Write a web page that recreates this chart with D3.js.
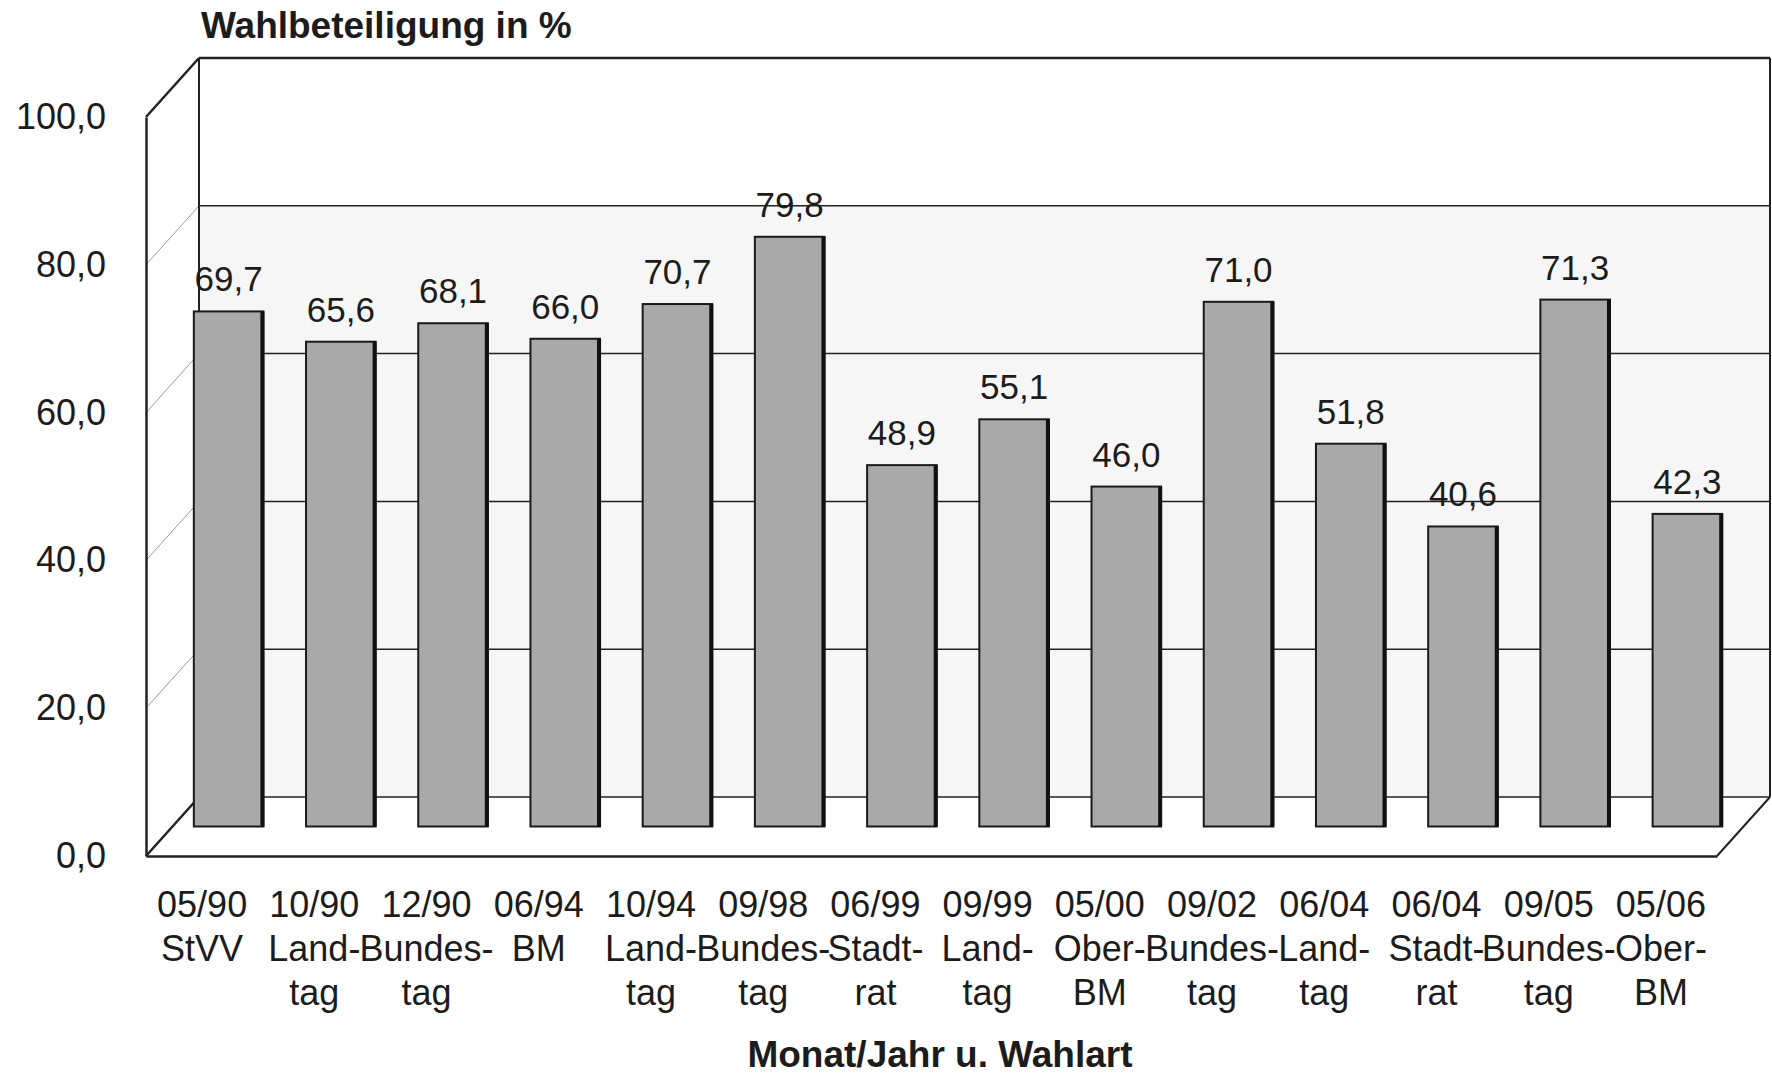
<!DOCTYPE html>
<html>
<head>
<meta charset="utf-8">
<script src="https://cdn.jsdelivr.net/npm/d3@7"></script>
<style>
  body { margin: 0; background: #fff; }
  text { font-family: "Liberation Sans", Arial, sans-serif; fill: #1c1c1c; }
</style>
</head>
<body>
<div id="chart"></div>
<script>
var dates  = ["05/90", "10/90", "12/90", "06/94", "10/94", "09/98", "06/99", "09/99", "05/00", "09/02", "06/04", "06/04", "09/05", "05/06"];
var kinds  = ["StVV", "Land-", "Bundes-", "BM", "Land-", "Bundes-", "Stadt-", "Land-", "Ober-", "Bundes-", "Land-", "Stadt-", "Bundes-", "Ober-"];
var kinds2 = ["", "tag", "tag", "", "tag", "tag", "rat", "tag", "BM", "tag", "tag", "rat", "tag", "BM"];
var turnout = [69.7, 65.6, 68.1, 66.0, 70.7, 79.8, 48.9, 55.1, 46.0, 71.0, 51.8, 40.6, 71.3, 42.3];
var yTicks = [0, 20, 40, 60, 80, 100];

var width = 1772, height = 1080;
var dx = 53, dy = -59;   // depth of the 3d box
var comma = function(v) { return d3.format(".1f")(v).replace(".", ","); };

var svg = d3.select("#chart")
    .append("svg")
      .attr("width", width)
      .attr("height", height);

var x = d3.scaleBand()
    .domain(d3.range(dates.length))
    .range([146, 1717]);

var y = d3.scaleLinear()
    .domain([0, 100])
    .range([856, 117]);

var x0 = x.range()[0], x1 = x.range()[1];

// back wall
svg.append("rect")
    .attr("x", x0 + dx)
    .attr("y", y(80) + dy)
    .attr("width", x1 - x0)
    .attr("height", y(0) - y(80))
    .attr("fill", "#f6f6f6");

// gridlines on back wall
svg.selectAll("line.grid")
    .data(yTicks)
    .enter()
    .append("line")
      .attr("class", "grid")
      .attr("x1", x0 + dx)
      .attr("x2", x1 + dx)
      .attr("y1", function(d) { return y(d) + dy; })
      .attr("y2", function(d) { return y(d) + dy; })
      .attr("stroke", "#222")
      .attr("stroke-width", function(d) { return d == 100 ? 2.5 : 1.5; });

// gridlines on side wall
svg.selectAll("line.side")
    .data(yTicks)
    .enter()
    .append("line")
      .attr("class", "side")
      .attr("x1", x0)
      .attr("x2", x0 + dx)
      .attr("y1", function(d) { return y(d); })
      .attr("y2", function(d) { return y(d) + dy; })
      .attr("stroke", function(d) { return (d == 0 || d == 100) ? "#222" : "#9a9a9a"; })
      .attr("stroke-width", function(d) { return (d == 0 || d == 100) ? 2.5 : 1; });

// back wall verticals + floor edge on the right
svg.append("line")
    .attr("x1", x0 + dx).attr("x2", x0 + dx)
    .attr("y1", y(100) + dy).attr("y2", y(0) + dy)
    .attr("stroke", "#222").attr("stroke-width", 2);
svg.append("line")
    .attr("x1", x1 + dx).attr("x2", x1 + dx)
    .attr("y1", y(100) + dy).attr("y2", y(0) + dy)
    .attr("stroke", "#222").attr("stroke-width", 2);
svg.append("line")
    .attr("x1", x1).attr("x2", x1 + dx)
    .attr("y1", y(0)).attr("y2", y(0) + dy)
    .attr("stroke", "#222").attr("stroke-width", 2);

// bars
var bw = x.bandwidth() * 0.62;
var barX = function(i) { return x(i) + (x.bandwidth() - bw) / 2 + dx / 2; };

var bars = svg.selectAll("g.bar")
    .data(turnout)
    .enter()
    .append("g")
      .attr("class", "bar");

bars.append("rect")
    .attr("x", function(d, i) { return barX(i); })
    .attr("y", function(d) { return y(d) + dy / 2; })
    .attr("width", bw)
    .attr("height", function(d) { return y(0) - y(d); })
    .attr("fill", "#a9a9a9")
    .attr("stroke", "#1a1a1a")
    .attr("stroke-width", 2);

bars.append("rect")
    .attr("x", function(d, i) { return barX(i) + bw - 3; })
    .attr("y", function(d) { return y(d) + dy / 2; })
    .attr("width", 4)
    .attr("height", function(d) { return y(0) - y(d); })
    .attr("fill", "#111");

bars.append("text")
    .attr("x", function(d, i) { return barX(i) + bw / 2; })
    .attr("y", function(d) { return y(d) + dy / 2 - 20; })
    .attr("text-anchor", "middle")
    .style("font-size", "35px")
    .text(function(d) { return comma(d); });

// Y axis
var yAxis = svg.append("g")
    .attr("transform", "translate(" + x0 + ",0)")
    .call(d3.axisLeft(y).tickValues(yTicks).tickSize(0).tickPadding(40).tickFormat(comma));
yAxis.select(".domain").attr("stroke", "#222").attr("stroke-width", 2.5);
yAxis.selectAll("text")
    .style("font-size", "36px")
    .attr("font-family", null);

// X axis
var xAxis = svg.append("g")
    .attr("transform", "translate(0," + y(0) + ")")
    .call(d3.axisBottom(x).tickSize(0).tickFormat(""));
xAxis.select(".domain").attr("stroke", "#222").attr("stroke-width", 2.5);

xAxis.selectAll(".tick text").remove();
xAxis.selectAll(".tick")
    .append("text")
      .attr("text-anchor", "middle")
      .style("font-size", "36px")
      .each(function(i) {
        var t = d3.select(this);
        var lines = [dates[i], kinds[i], kinds2[i]];
        lines.forEach(function(s, k) {
          t.append("tspan").attr("x", 0).attr("y", 61 + k * 44).text(s);
        });
      });

// titles
svg.append("text")
    .attr("x", 201)
    .attr("y", 38)
    .style("font-size", "37px")
    .style("font-weight", "bold")
    .text("Wahlbeteiligung in %");

svg.append("text")
    .attr("x", 940)
    .attr("y", 1067)
    .attr("text-anchor", "middle")
    .style("font-size", "37px")
    .style("font-weight", "bold")
    .text("Monat/Jahr u. Wahlart");
</script>
</body>
</html>
